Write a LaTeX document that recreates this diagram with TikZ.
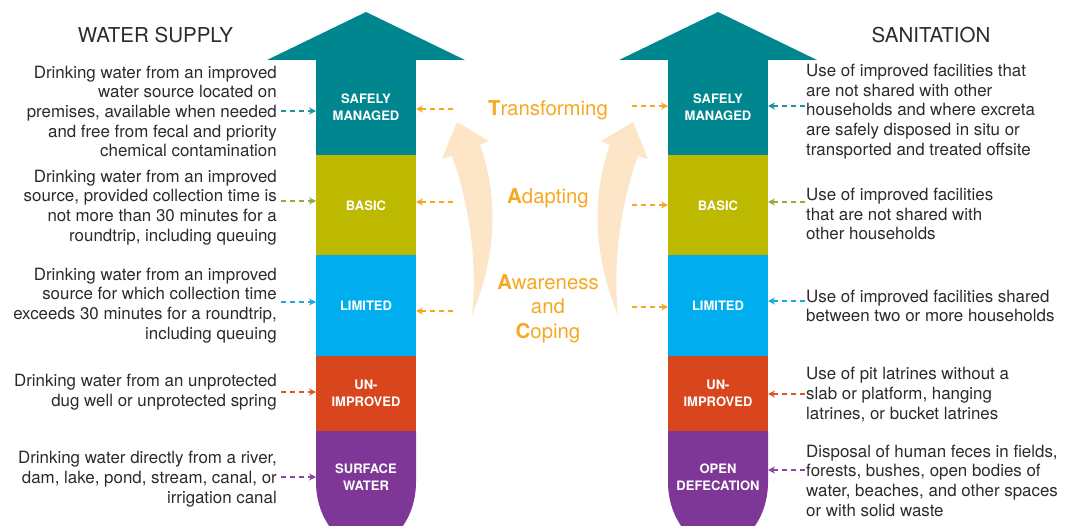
\documentclass[tikz,border=0pt]{standalone}
\usepackage{fontspec}
\setmainfont{TeX Gyre Heros}
\usetikzlibrary{arrows.meta}
\definecolor{cteal}{HTML}{00868F}
\definecolor{colive}{HTML}{BDB800}
\definecolor{cblue}{HTML}{00AEEF}
\definecolor{cred}{HTML}{D9461E}
\definecolor{cpurple}{HTML}{7E3796}
\definecolor{corange}{HTML}{F7A823}
\definecolor{cpeach}{HTML}{FDE6C8}
\definecolor{dtext}{HTML}{2B2B2B}
\definecolor{agreen}{HTML}{8FAE3A}
\definecolor{ablue}{HTML}{1FA8E0}
\definecolor{ared}{HTML}{E0552A}
\definecolor{apurple}{HTML}{8E44A8}
\definecolor{ateal}{HTML}{1A95A0}
\begin{document}
\begin{tikzpicture}[x=1pt,y=-1pt,
  band/.style={minimum width=100pt, inner sep=0pt, outer sep=0pt, text=white,
    font=\fontsize{13}{17}\selectfont\bfseries, align=center},
  desc/.style={text=dtext, font=\fontsize{16.9}{19.7}\selectfont, inner sep=0pt},
  conn/.style={dash pattern=on 5pt off 4pt, line width=1.1pt, -{Stealth[length=7pt,width=7pt]}},
  midtxt/.style={text=corange, font=\fontsize{20.4}{24.5}\selectfont, align=center, inner sep=0pt},
  header/.style={text=dtext, font=\fontsize{20.5}{24}\selectfont, inner sep=0pt}]
\useasboundingbox (0,0) rectangle (1067,526);
\clip (0,0) rectangle (1067,526);

% headers
\node[header] (HW) at (155.5,35) {WATER SUPPLY};
\node[header] (HS) at (931,35) {SANITATION};

% ---------- left column ----------
\fill[cteal] (267,60) -- (366,12) -- (465,60) -- cycle;
\node[band, fill=cteal, minimum height=96pt] (LSM) at (366,107.5) {SAFELY\\MANAGED};
\node[band, fill=colive, minimum height=100pt] (LBA) at (366,205.5) {BASIC};
\node[band, fill=cblue, minimum height=101pt] (LLI) at (366,305.5) {LIMITED};
\node[band, fill=cred, minimum height=75pt] (LUN) at (366,393.5) {UN-\\IMPROVED};
\fill[cpurple] (316,431) -- (316,482) .. controls (316,518) and (338.4,547) .. (366,547)
  .. controls (393.6,547) and (416,518) .. (416,482) -- (416,431) -- cycle;
\node[band] (LSW) at (366,477) {SURFACE\\WATER};

% ---------- right column ----------
\fill[cteal] (619,60) -- (718,12) -- (817,60) -- cycle;
\node[band, fill=cteal, minimum height=96pt] (RSM) at (718,107.5) {SAFELY\\MANAGED};
\node[band, fill=colive, minimum height=100pt] (RBA) at (718,205.5) {BASIC};
\node[band, fill=cblue, minimum height=101pt] (RLI) at (718,305.5) {LIMITED};
\node[band, fill=cred, minimum height=75pt] (RUN) at (718,393.5) {UN-\\IMPROVED};
\fill[cpurple] (668,431) -- (668,482) .. controls (668,518) and (690.4,547) .. (718,547)
  .. controls (745.6,547) and (768,518) .. (768,482) -- (768,431) -- cycle;
\node[band] (ROD) at (718,477) {OPEN\\DEFECATION};

% ---------- peach curved arrows ----------
\fill[cpeach] (472,315) .. controls (495,260) and (500,200) .. (480,145) -- (489,141)
  -- (457,122) -- (442,159) -- (452,156) .. controls (468,200) and (478,260) .. (472,315) -- cycle;
\fill[cpeach] (618,315) .. controls (595,260) and (590,200) .. (610,145) -- (601,141)
  -- (633,122) -- (648,159) -- (638,156) .. controls (622,200) and (612,260) .. (618,315) -- cycle;

% ---------- middle texts ----------
\node[midtxt] (MT) at (548,110) {\textbf{T}ransforming};
\node[midtxt] (MA) at (548,198) {\textbf{A}dapting};
\node[midtxt] (MC) at (548,308.5) {\textbf{A}wareness\\and\\\textbf{C}oping};

% ---------- left descriptions ----------
\node[desc, anchor=east, align=right] (LT1) at (277,111.5) {Drinking water from an improved\\water source located on\\premises, available when needed\\and free from fecal and priority\\chemical contamination};
\node[desc, anchor=east, align=right] (LT2) at (277,207.5) {Drinking water from an improved\\source, provided collection time is\\not more than 30 minutes for a\\roundtrip, including queuing};
\node[desc, anchor=east, align=right] (LT3) at (277,305.5) {Drinking water from an improved\\source for which collection time\\exceeds 30 minutes for a roundtrip,\\including queuing};
\node[desc, anchor=east, align=right] (LT4) at (277,392) {Drinking water from an unprotected\\dug well or unprotected spring};
\node[desc, anchor=east, align=right] (LT5) at (277,479) {Drinking water directly from a river,\\dam, lake, pond, stream, canal, or\\irrigation canal};

% ---------- right descriptions ----------
\node[desc, anchor=west, align=left] (RT1) at (806,111.5) {Use of improved facilities that\\are not shared with other\\households and where excreta\\are safely disposed in situ or\\transported and treated offsite};
\node[desc, anchor=west, align=left] (RT2) at (806,214) {Use of improved facilities\\that are not shared with\\other households};
\node[desc, anchor=west, align=left] (RT3) at (806,306) {Use of improved facilities shared\\between two or more households};
\node[desc, anchor=west, align=left] (RT4) at (806,394.5) {Use of pit latrines without a\\slab or platform, hanging\\latrines, or bucket latrines};
\node[desc, anchor=west, align=left] (RT5) at (806,480.5) {Disposal of human feces in fields,\\forests, bushes, open bodies of\\water, beaches, and other spaces\\or with solid waste};

% ---------- connector start points ----------
\coordinate (la1) at (281,111);
\coordinate (la2) at (281,201);
\coordinate (la3) at (281,302);
\coordinate (la4) at (281,392);
\coordinate (la5) at (281,477);
\coordinate (ra1) at (805,106);
\coordinate (ra2) at (805,202);
\coordinate (ra3) at (805,301);
\coordinate (ra4) at (805,394);
\coordinate (ra5) at (805,470);
\coordinate (ml1) at (453,109);
\coordinate (ml2) at (453,202);
\coordinate (ml3) at (453,311);
\coordinate (mr1) at (632,106);
\coordinate (mr2) at (632,205);
\coordinate (mr3) at (632,307);

% ---------- connectors ----------
\draw[conn, ateal] (la1) -- (LSM.west |- la1);
\draw[conn, agreen] (la2) -- (LBA.west |- la2);
\draw[conn, ablue] (la3) -- (LLI.west |- la3);
\draw[conn, ared] (la4) -- (LUN.west |- la4);
\draw[conn, apurple] (la5) -- (LSW.west |- la5);

\draw[conn, ateal] (ra1) -- (RSM.east |- ra1);
\draw[conn, agreen] (ra2) -- (RBA.east |- ra2);
\draw[conn, ablue] (ra3) -- (RLI.east |- ra3);
\draw[conn, ared] (ra4) -- (RUN.east |- ra4);
\draw[conn, apurple] (ra5) -- (ROD.east |- ra5);

\draw[conn, corange] (ml1) -- (LSM.east |- ml1);
\draw[conn, corange] (ml2) -- (LBA.east |- ml2);
\draw[conn, corange] (ml3) -- (LLI.east |- ml3);
\draw[conn, corange] (mr1) -- (RSM.west |- mr1);
\draw[conn, corange] (mr2) -- (RBA.west |- mr2);
\draw[conn, corange] (mr3) -- (RLI.west |- mr3);
\end{tikzpicture}
\end{document}
